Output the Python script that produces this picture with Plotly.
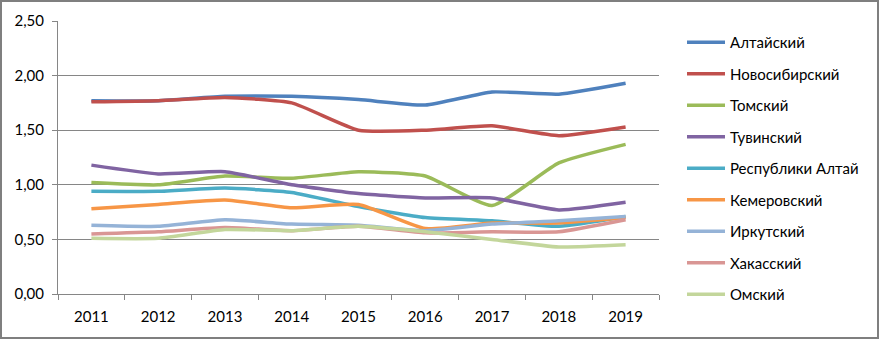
import plotly.graph_objects as go

years = ["2011", "2012", "2013", "2014", "2015", "2016", "2017", "2018", "2019"]
names = ["Алтайский", "Новосибирский", "Томский", "Тувинский", "Республики Алтай",
         "Кемеровский", "Иркутский", "Хакасский", "Омский"]
altai = [1.77, 1.77, 1.81, 1.81, 1.78, 1.73, 1.85, 1.83, 1.93]
novosib = [1.76, 1.77, 1.80, 1.75, 1.50, 1.50, 1.54, 1.45, 1.53]
tomsk = [1.02, 1.00, 1.08, 1.06, 1.12, 1.08, 0.81, 1.20, 1.37]
tuva = [1.18, 1.10, 1.12, 1.00, 0.92, 0.88, 0.88, 0.77, 0.84]
rep_altai = [0.94, 0.94, 0.97, 0.93, 0.80, 0.70, 0.67, 0.62, 0.71]
kemerovo = [0.78, 0.82, 0.86, 0.79, 0.82, 0.60, 0.65, 0.65, 0.70]
irkutsk = [0.63, 0.62, 0.68, 0.64, 0.63, 0.58, 0.64, 0.67, 0.71]
khakass = [0.55, 0.57, 0.61, 0.58, 0.62, 0.56, 0.57, 0.57, 0.68]
omsk = [0.51, 0.51, 0.59, 0.58, 0.62, 0.57, 0.50, 0.43, 0.45]
series = [altai, novosib, tomsk, tuva, rep_altai, kemerovo, irkutsk, khakass, omsk]
colors = ["#4F81BD", "#C0504D", "#9BBB59", "#8064A2", "#4BACC6",
          "#F79646", "#95B3D7", "#D99694", "#C3D69B"]

FONT = "Lato"
fig = go.Figure()
for i, (n, s, c) in enumerate(zip(names, series, colors)):
    fig.add_trace(go.Scatter(x=years, y=s, name=n, mode="lines",
                             line=dict(color=c, width=3.5, shape="spline", smoothing=0.5),
                             legendgroup=str(i)))

W, H = 879, 339
ml, mr, mt, mb = 58, 220, 21, 45
pw, ph = W - ml - mr, H - mt - mb

fig.update_layout(
    width=W, height=H,
    margin=dict(l=ml, r=mr, t=mt, b=mb, autoexpand=False),
    paper_bgcolor="white", plot_bgcolor="white",
    separators=", ",
    font=dict(family=FONT, size=15, color="#000000"),
    showlegend=True,
    legend=dict(x=(682 - ml) / pw, xanchor="left", y=(mt + ph - 26) / ph, yanchor="top",
                traceorder="grouped", tracegroupgap=9, maxheight=330,
                font=dict(family=FONT, size=15, color="#000000"),
                bgcolor="rgba(0,0,0,0)", itemwidth=38),
    xaxis=dict(type="category", range=[-0.5, 8.5], showgrid=False, showline=True,
               linecolor="#868686", linewidth=1,
               ticks="outside", tickson="boundaries", ticklen=5, tickcolor="#868686",
               ticklabelstandoff=9,
               tickfont=dict(family=FONT, size=15), fixedrange=True),
    yaxis=dict(range=[0, 2.5], dtick=0.5, tickformat=".2f", showgrid=True,
               gridcolor="#868686", gridwidth=1, showline=True, linecolor="#868686",
               linewidth=1, ticks="outside", ticklen=5, tickcolor="#868686",
               ticklabelstandoff=5,
               tickfont=dict(family=FONT, size=15), zeroline=False, fixedrange=True),
    shapes=[dict(type="rect", xref="paper", yref="paper",
                 x0=(1 - ml) / pw, x1=(878 - ml) / pw,
                 y0=(mt + ph - 338) / ph, y1=(mt + ph - 1) / ph,
                 line=dict(color="#7f7f7f", width=2))],
)

fig.write_html("out.html", config={"displayModeBar": False},
               post_script="document.body.style.margin='0';")
